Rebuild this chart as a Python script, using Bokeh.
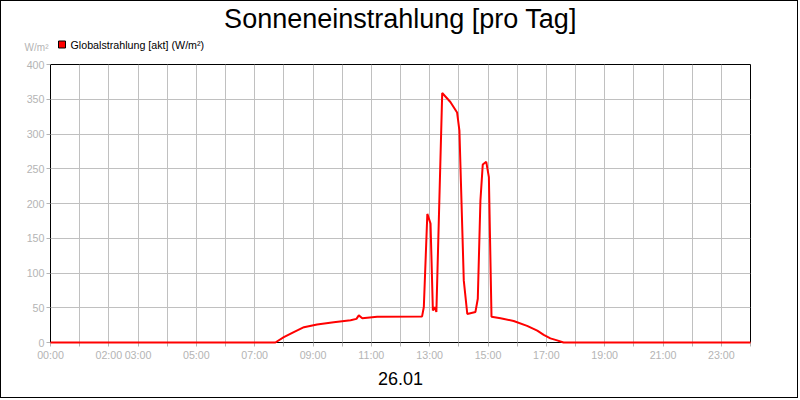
from bokeh.plotting import figure
from bokeh.models import Range1d, FixedTicker, Label
from bokeh.embed import file_html
from bokeh.resources import INLINE

# ---- data ----
hours = [0, 7.71, 8.0, 8.34, 8.69, 9.14, 9.71, 10.29, 10.49, 10.57, 10.69, 11.2,
         12.74, 12.8, 12.92, 13.03, 13.11, 13.17, 13.23, 13.43, 13.71, 13.94, 14.02,
         14.17, 14.29, 14.57, 14.65, 14.74, 14.82, 14.94, 15.03, 15.12, 15.43, 15.88,
         16.34, 16.69, 16.91, 17.14, 17.37, 17.59, 24]
globalstrahlung = [0, 0, 7.6, 15, 22, 26, 29, 32, 34, 39, 35, 37,
                   37.5, 51, 185, 171, 46, 51, 44, 359, 346, 331, 305,
                   89, 41, 44, 63, 204, 256, 260, 238, 37, 35, 31,
                   24, 17, 11, 6, 3, 0, 0]
x_ticks = list(range(25))
x_tick_labels = ["00:00", "", "02:00", "03:00", "", "05:00", "", "07:00", "", "09:00",
                 "", "11:00", "", "13:00", "", "15:00", "", "17:00", "", "19:00",
                 "", "21:00", "", "23:00", ""]
y_ticks = [0, 50, 100, 150, 200, 250, 300, 350, 400]
title_text = "Sonneneinstrahlung [pro Tag]"
date_text = "26.01"
series_name = "Globalstrahlung [akt] (W/m²)"
unit_text = "W/m²"

FONT = "Liberation Sans"
GRAY = "#b4b4b4"

p = figure(width=798, height=398, output_backend="svg", toolbar_location=None,
           x_range=Range1d(0, 24), y_range=Range1d(0, 400),
           min_border_left=49, min_border_right=49, min_border_top=63, min_border_bottom=57)
p.styles = {"border": "1px solid black"}
p.background_fill_color = "white"
p.border_fill_color = "white"
p.outline_line_color = "black"
p.outline_line_width = 1

p.xaxis.ticker = FixedTicker(ticks=x_ticks)
p.xaxis.major_label_overrides = {t: l for t, l in zip(x_ticks, x_tick_labels)}
p.yaxis.ticker = FixedTicker(ticks=y_ticks)
for ax in (p.xaxis, p.yaxis):
    ax.axis_line_color = "black"
    ax.major_tick_line_color = GRAY
    ax.major_tick_out = 4
    ax.major_tick_in = 0
    ax.minor_tick_line_color = None
    ax.major_label_text_color = GRAY
    ax.major_label_text_font = FONT
    ax.major_label_text_font_size = "10.7px"
    ax.major_label_standoff = 2
p.grid.grid_line_color = "#c0c0c0"
p.grid.grid_line_width = 1

p.line(hours, globalstrahlung, line_color="#ff0000", line_width=2, level="overlay")

# texts in side panels (side panels are not clipped)
def lab(side, **kw):
    p.add_layout(Label(x_units="screen", y_units="screen", text_font=FONT, **kw), side)

# above: title (panel bottom = frame top), then legend text
lab("above", x=350, y=46, text=title_text, text_align="center", text_baseline="middle",
    text_font_size="27px", text_color="black")
lab("above", x=20, y=-10, text=series_name, text_align="left", text_baseline="middle",
    text_font_size="10.7px", text_color="black")
# right: legend square, then unit text
lab("right", x=-692, y=298, text="\u2003", text_align="left", text_baseline="middle",
    text_font_size="7px", background_fill_color="#ff0000",
    border_line_color="black", padding=0)
lab("right", x=-709, y=295, text=unit_text, text_align="right", text_baseline="middle",
    text_font_size="10px", text_color=GRAY)
# below: date
lab("below", x=350, y=-2, text=date_text, text_align="center", text_baseline="middle",
    text_font_size="18px", text_color="black")

open("out.html", "w").write(file_html(p, INLINE))
